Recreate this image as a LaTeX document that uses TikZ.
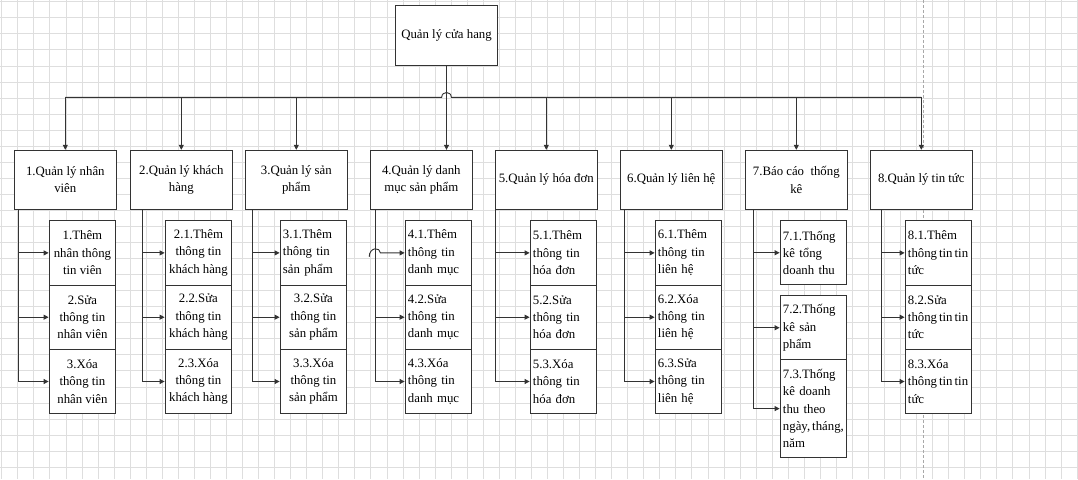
\documentclass[tikz,border=0pt]{standalone}
\usepackage{fontspec}
\setmainfont{Liberation Serif}
\usetikzlibrary{calc,arrows.meta}
\definecolor{linec}{HTML}{333333}
\definecolor{gridc}{HTML}{DEDEDE}
\definecolor{pagec}{HTML}{A8A8A8}
\newcommand{\dfont}{\fontsize{12.8pt}{17.3pt}\selectfont}
\newcommand{\nsp}{\hspace{2pt}}
\tikzset{
  gline/.style={draw=gridc, line width=0.8pt},
  cline/.style={draw=linec, line width=0.9pt},
  arr/.style={cline, -{Triangle[length=5pt,width=5pt]}},
  mainbox/.style={draw=linec, line width=0.9pt, fill=white, font=\dfont, align=center,
    minimum width=102pt, minimum height=59pt, inner sep=2pt},
  subc/.style={draw=linec, line width=0.9pt, fill=white, font=\dfont, align=center,
    minimum width=66.8pt, minimum height=64.3pt, inner sep=2pt, anchor=north east},
  subl/.style={subc, align=left, text width=61pt, inner xsep=2.9pt},
}
\begin{document}
\begin{tikzpicture}[x=1pt,y=-1pt]
\useasboundingbox (0,0) rectangle (1078,479);
\fill[white] (0,0) rectangle (1078,479);
% grid
\foreach \i in {0,...,67} {\draw[gline] ({1.7+16.05*\i},0) -- ({1.7+16.05*\i},479);}
\foreach \j in {0,...,29} {\draw[gline] (0,{1.7+16.05*\j}) -- (1078,{1.7+16.05*\j});}
% page break line
\draw[pagec, line width=0.8pt, dash pattern=on 3pt off 2pt] (923,0) -- (923,479);

% top box
\node[mainbox, minimum height=60pt] (top) at (446.5,35.3) {Quản lý cửa hang};

% level 1
\node[mainbox] (n1) at (65.3,179.8) {1.Quản lý nhân\\viên};
\node[mainbox] (n2) at (181.3,179.8) {2.Quản lý khách\\hàng};
\node[mainbox] (n3) at (296.3,179.8) {3.Quản lý sản\\phẩm};
\node[mainbox] (n4) at (421.3,179.8) {4.Quản lý danh\\mục sản phẩm};
\node[mainbox] (n5) at (546.3,179.8) {5.Quản lý hóa đơn};
\node[mainbox] (n6) at (671.3,179.8) {6.Quản lý liên hệ};
\node[mainbox] (n7) at (796.3,179.8) {7.Báo cáo\ \ thống\\kê};
\node[mainbox] (n8) at (921.3,179.8) {8.Quản lý tin tức};

% level 2 group 1
\node[subc] (s11) at (116.3,220.3) {1.Thêm\\nhân thông\\tin viên};
\node[subc] (s12) at (116.3,284.6) {2.Sửa\\thông tin\\nhân viên};
\node[subc] (s13) at (116.3,348.9) {3.Xóa\\thông tin\\nhân viên};
% group 2
\node[subc] (s21) at (232.3,220.3) {2.1.Thêm\\thông tin\\khách hàng};
\node[subc] (s22) at (232.3,284.6) {2.2.Sửa\\thông tin\\khách hàng};
\node[subc] (s23) at (232.3,348.9) {2.3.Xóa\\thông tin\\khách hàng};
% group 3
\node[subl] (s31) at (347.3,220.3) {3.1.Thêm\\thông~tin\\sản~phẩm};
\node[subc] (s32) at (347.3,284.6) {3.2.Sửa\\thông tin\\sản phẩm};
\node[subc] (s33) at (347.3,348.9) {3.3.Xóa\\thông tin\\sản phẩm};
% group 4
\node[subl] (s41) at (472.3,220.3) {4.1.Thêm\\thông~tin\\danh~mục};
\node[subl] (s42) at (472.3,284.6) {4.2.Sửa\\thông~tin\\danh~mục};
\node[subl] (s43) at (472.3,348.9) {4.3.Xóa\\thông~tin\\danh~mục};
% group 5
\node[subl] (s51) at (597.3,220.3) {5.1.Thêm\\thông~tin\\hóa~đơn};
\node[subl] (s52) at (597.3,284.6) {5.2.Sửa\\thông~tin\\hóa~đơn};
\node[subl] (s53) at (597.3,348.9) {5.3.Xóa\\thông~tin\\hóa~đơn};
% group 6
\node[subl] (s61) at (722.3,220.3) {6.1.Thêm\\thông~tin\\liên~hệ};
\node[subl] (s62) at (722.3,284.6) {6.2.Xóa\\thông~tin\\liên~hệ};
\node[subl] (s63) at (722.3,348.9) {6.3.Sửa\\thông~tin\\liên~hệ};
% group 7
\node[subl, minimum height=64pt] (s71) at (847.3,220.3) {7.1.Thống\\kê~tổng\\doanh~thu};
\node[subl, minimum height=64pt] (s72) at (847.3,295.3) {7.2.Thống\\kê~sản\\phẩm};
\node[subl, minimum height=97.7pt] (s73) at (847.3,359.3) {7.3.Thống\\kê~doanh\\thu~theo\\ngày,\nsp{}tháng,\\năm};
% group 8
\node[subl] (s81) at (972.3,220.3) {8.1.Thêm\\thông\nsp{}tin\nsp{}tin\\tức};
\node[subl] (s82) at (972.3,284.6) {8.2.Sửa\\thông\nsp{}tin\nsp{}tin\\tức};
\node[subl] (s83) at (972.3,348.9) {8.3.Xóa\\thông\nsp{}tin\nsp{}tin\\tức};

% bus with hop
\coordinate (bj) at (446.5,97.3);
\draw[cline] (n1.north |- bj) -- ($(bj)+(-4.8,0)$)
  .. controls ($(bj)+(-4.8,-6.4)$) and ($(bj)+(4.8,-6.4)$) .. ($(bj)+(4.8,0)$)
  -- (n8.north |- bj);
\draw[arr] (top.south) -- (top.south |- n4.north);
\foreach \n in {n1,n2,n3,n5,n6,n7,n8} {\draw[arr] (\n.north |- bj) -- (\n.north);}

% sub connectors
\foreach \s in {s11,s12,s13} {\draw[arr] ([xshift=5pt]n1.south west) |- (\s.west);}
\foreach \s in {s21,s22,s23} {\draw[arr] ([xshift=13pt]n2.south west) |- (\s.west);}
\foreach \s in {s31,s32,s33} {\draw[arr] ([xshift=8pt]n3.south west) |- (\s.west);}
\draw[cline] ([xshift=5.7pt]n4.south west) -- ([xshift=5.7pt]n4.south west |- s43.west);
\draw[arr] ($(s41.west)+(-35.4,4)$) .. controls ($(s41.west)+(-35.4,-6)$) and ($(s41.west)+(-24.2,-6)$) .. ($(s41.west)+(-24.2,0)$) -- (s41.west);
\foreach \s in {s42,s43} {\draw[arr] ([xshift=5.7pt]n4.south west) |- (\s.west);}
\foreach \s in {s51,s52,s53} {\draw[arr] ([xshift=0.4pt]n5.south west) |- (\s.west);}
\foreach \s in {s61,s62,s63} {\draw[arr] ([xshift=4.4pt]n6.south west) |- (\s.west);}
\foreach \s in {s71,s72,s73} {\draw[arr] ([xshift=8.4pt]n7.south west) |- (\s.west);}
\foreach \s in {s81,s82,s83} {\draw[arr] ([xshift=12pt]n8.south west) |- (\s.west);}
\end{tikzpicture}
\end{document}
